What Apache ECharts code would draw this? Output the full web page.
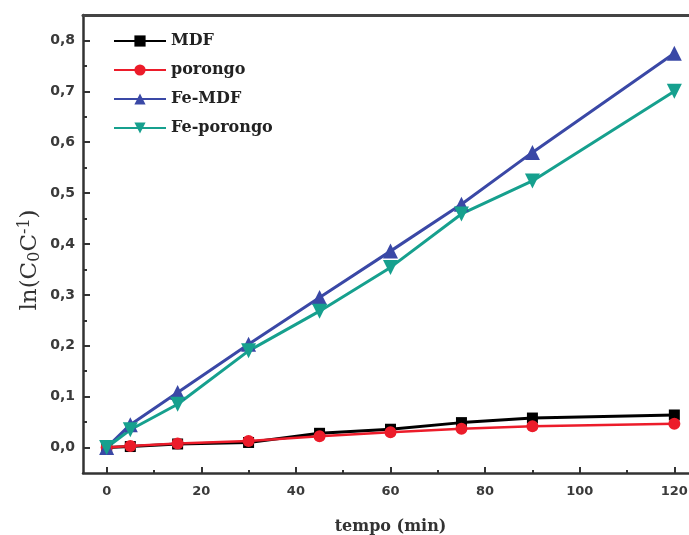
<!DOCTYPE html>
<html>
<head>
<meta charset="utf-8">
<script src="https://cdn.jsdelivr.net/npm/echarts@6/dist/echarts.min.js"></script>
<style>
  html, body { margin: 0; padding: 0; background: #fff; }
  #chart { width: 689px; height: 535px; }
</style>
</head>
<body>
<div id="chart"></div>
<script>
// Sampling times (min)
const times = [0, 5, 15, 30, 45, 60, 75, 90, 120];

// ln(C0/C) for each material
const mdf       = [0, 0.002, 0.007, 0.010, 0.028, 0.036, 0.049, 0.058, 0.064];
const porongo   = [0, 0.003, 0.008, 0.013, 0.022, 0.030, 0.037, 0.042, 0.047];
const feMdf     = [0, 0.045, 0.108, 0.203, 0.295, 0.386, 0.478, 0.580, 0.775];
const fePorongo = [0, 0.035, 0.085, 0.190, 0.268, 0.354, 0.459, 0.524, 0.700];

const seriesNames = ['MDF', 'porongo', 'Fe-MDF', 'Fe-porongo'];

// Tick positions
const xMajorTicks = [0, 20, 40, 60, 80, 100, 120];
const xMinorTicks = [10, 30, 50, 70, 90, 110];
const yMajorTicks = [0, 0.1, 0.2, 0.3, 0.4, 0.5, 0.6, 0.7, 0.8];
const yMinorTicks = [0.05, 0.15, 0.25, 0.35, 0.45, 0.55, 0.65, 0.75];

const pairs = ys => times.map((t, i) => [t, ys[i]]);

const axisColor = '#333';
const tickFont = { fontFamily: 'DejaVu Sans', fontWeight: 'bold', color: '#3a3a3a' };
const X_MIN = -5, X_MAX = 125, Y_MIN = -0.05, Y_MAX = 0.85;

const chart = echarts.init(document.getElementById('chart'), null, { renderer: 'canvas' });

chart.setOption({
  animation: false,
  backgroundColor: '#fff',
  grid: {
    left: 83, top: 15, right: -9, bottom: 62,
    outerBoundsMode: 'none'
  },
  legend: {
    orient: 'vertical',
    left: 113, top: 33, padding: 0,
    itemWidth: 52, itemHeight: 14, itemGap: 13,
    data: seriesNames,
    textStyle: { fontFamily: 'DejaVu Serif', fontWeight: 'bold', fontSize: 16, color: '#222' }
  },
  xAxis: [
    {
      type: 'value', min: X_MIN, max: X_MAX,
      name: 'tempo (min)', nameLocation: 'middle', nameGap: 46,
      nameTextStyle: { fontFamily: 'DejaVu Serif', fontWeight: 'bold', fontSize: 16, color: '#333' },
      axisLine: { show: true, onZero: false, lineStyle: { color: axisColor, width: 2.5 } },
      axisTick: { show: true, inside: true, length: 6, customValues: xMajorTicks, lineStyle: { color: axisColor, width: 2 } },
      axisLabel: { customValues: xMajorTicks, margin: 12, ...tickFont, fontSize: 13 },
      splitLine: { show: false }
    },
    {
      // minor ticks on the bottom axis
      type: 'value', min: X_MIN, max: X_MAX, position: 'bottom', offset: 0,
      axisLine: { show: false, onZero: false },
      axisTick: { show: true, inside: true, length: 3, customValues: xMinorTicks, lineStyle: { color: axisColor, width: 2 } },
      axisLabel: { show: false },
      splitLine: { show: false }
    },
    {
      // top frame line
      type: 'value', min: X_MIN, max: X_MAX, position: 'top', offset: 0,
      axisLine: { show: true, onZero: false, lineStyle: { color: '#444', width: 3 } },
      axisTick: { show: false },
      axisLabel: { show: false },
      splitLine: { show: false }
    }
  ],
  yAxis: [
    {
      type: 'value', min: Y_MIN, max: Y_MAX,
      name: '{t|ln(C}{sub|0}{t|C}{sup|-1}{t|)}',
      nameLocation: 'middle', nameGap: 40, nameRotate: 90,
      nameMoveOverlap: false,
      nameTextStyle: {
        padding: [0, 32, 0, 0],
        rich: {
          t:   { fontFamily: 'DejaVu Serif', fontSize: 23, color: '#333', lineHeight: 26 },
          sub: { fontFamily: 'DejaVu Serif', fontSize: 16, color: '#333', lineHeight: 16, verticalAlign: 'bottom' },
          sup: { fontFamily: 'DejaVu Serif', fontSize: 16, color: '#333', lineHeight: 16, verticalAlign: 'top' }
        }
      },
      axisLine: { show: true, onZero: false, lineStyle: { color: axisColor, width: 2.5 } },
      axisTick: { show: true, inside: true, length: 7, customValues: yMajorTicks, lineStyle: { color: axisColor, width: 2 } },
      axisLabel: {
        customValues: yMajorTicks, margin: 8, ...tickFont, fontSize: 14,
        formatter: v => v.toFixed(1).replace('.', ',')
      },
      splitLine: { show: false }
    },
    {
      // minor ticks on the left axis
      type: 'value', min: Y_MIN, max: Y_MAX, position: 'left', offset: 0,
      axisLine: { show: false, onZero: false },
      axisTick: { show: true, inside: true, length: 4, customValues: yMinorTicks, lineStyle: { color: axisColor, width: 2 } },
      axisLabel: { show: false },
      splitLine: { show: false }
    }
  ],
  series: [
    { name: 'MDF', type: 'line', data: pairs(mdf), symbol: 'rect', symbolSize: 11,
      itemStyle: { color: '#000' }, lineStyle: { color: '#000', width: 3 } },
    { name: 'porongo', type: 'line', data: pairs(porongo), symbol: 'circle', symbolSize: 12,
      itemStyle: { color: '#ec1c2a' }, lineStyle: { color: '#ec1c2a', width: 2.5 } },
    { name: 'Fe-MDF', type: 'line', data: pairs(feMdf), symbol: 'triangle', symbolSize: 15,
      itemStyle: { color: '#3a48a6' }, lineStyle: { color: '#3a48a6', width: 3 } },
    { name: 'Fe-porongo', type: 'line', data: pairs(fePorongo), symbol: 'triangle', symbolRotate: 180, symbolSize: 15,
      itemStyle: { color: '#16a08e' }, lineStyle: { color: '#16a08e', width: 3 } }
  ]
});
</script>
</body>
</html>
